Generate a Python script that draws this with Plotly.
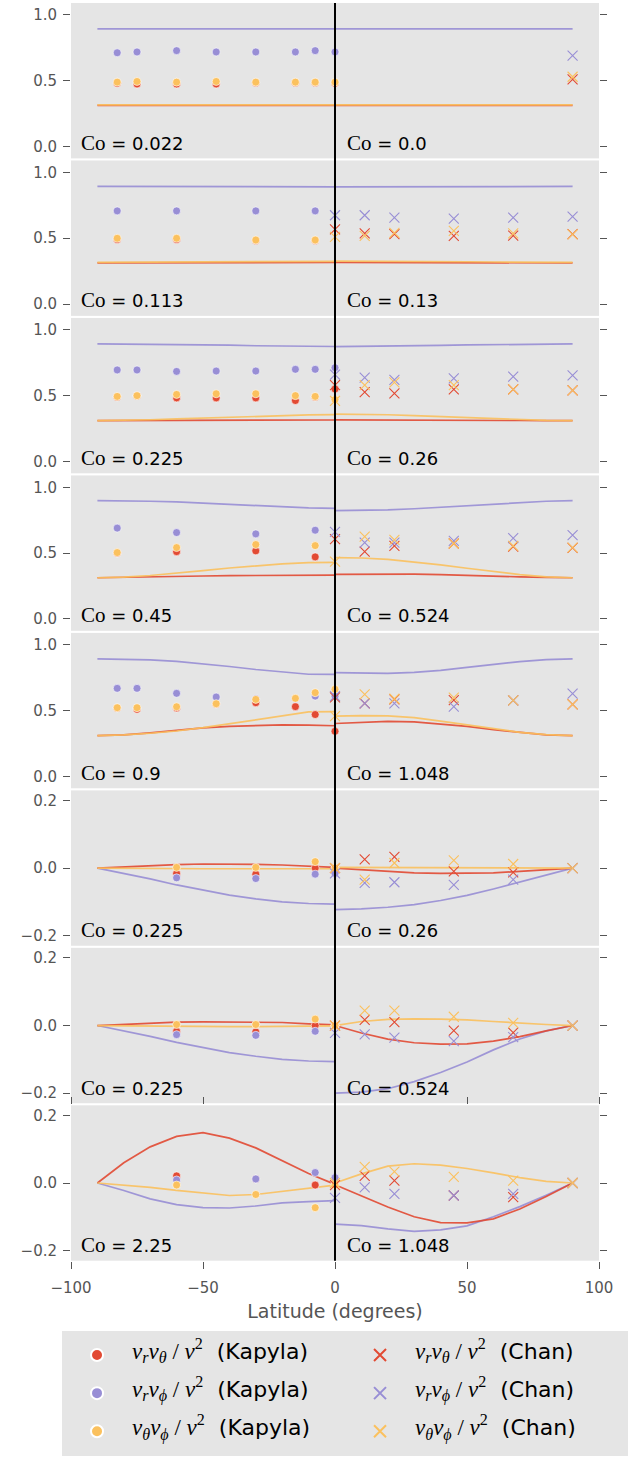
import plotly.graph_objects as go

# ---------------- data ----------------
co_left = ["0.022", "0.113", "0.225", "0.45", "0.9", "0.225", "0.225", "2.25"]
co_right = ["0.0", "0.13", "0.26", "0.524", "1.048", "0.26", "0.524", "1.048"]

LAT_K_FULL = [-82.5, -75, -60, -45, -30, -15, -7.5, 0]
LAT_K_SPARSE = [-82.5, -60, -30, -7.5]
LAT_K_EQ = [-60, -30, -7.5, 0]
kapyla_lats = [LAT_K_FULL, LAT_K_SPARSE, LAT_K_FULL, LAT_K_SPARSE,
               LAT_K_FULL, LAT_K_EQ, LAT_K_EQ, LAT_K_EQ]
chan_lats = [[90], [0, 11.25, 22.5, 45, 67.5, 90], [0, 11.25, 22.5, 45, 67.5, 90],
             [0, 11.25, 22.5, 45, 67.5, 90], [0, 11.25, 22.5, 45, 67.5, 90],
             [0, 11.25, 22.5, 45, 67.5, 90], [0, 11.25, 22.5, 45, 67.5, 90],
             [0, 11.25, 22.5, 45, 67.5, 90]]

# Kapyla points: v_r v_theta, v_r v_phi, v_theta v_phi
kapyla_rt = [
    [0.48, 0.475, 0.475, 0.475, 0.485, 0.485, 0.485, 0.48],
    [0.49, 0.49, 0.483, 0.483],
    [0.49, 0.50, 0.483, 0.483, 0.483, 0.463, 0.49, 0.55],
    [0.50, 0.511, 0.517, 0.471],
    [0.52, 0.51, 0.52, 0.55, 0.56, 0.53, 0.47, 0.343],
    [-0.016, -0.018, 0.0, 0.0],
    [-0.017, -0.019, 0.0, 0.0],
    [0.021, 0.012, -0.006, 0.0],
]
kapyla_rp = [
    [0.712, 0.718, 0.728, 0.718, 0.718, 0.718, 0.728, 0.718],
    [0.707, 0.707, 0.707, 0.707],
    [0.695, 0.695, 0.684, 0.687, 0.687, 0.70, 0.70, 0.712],
    [0.69, 0.656, 0.646, 0.674],
    [0.669, 0.669, 0.631, 0.603, 0.59, 0.59, 0.61, 0.61],
    [-0.029, -0.031, -0.018, -0.016],
    [-0.027, -0.029, -0.017, 0.0],
    [0.009, 0.012, 0.031, 0.016],
]
kapyla_tp = [
    [0.489, 0.494, 0.489, 0.494, 0.489, 0.489, 0.489, 0.489],
    [0.499, 0.499, 0.486, 0.486],
    [0.494, 0.50, 0.509, 0.514, 0.514, 0.50, 0.494, 0.47],
    [0.504, 0.542, 0.565, 0.557],
    [0.522, 0.522, 0.529, 0.552, 0.585, 0.593, 0.636, 0.662],
    [0.002, 0.002, 0.019, 0.0],
    [0.003, 0.003, 0.019, 0.0],
    [-0.006, -0.034, -0.073, -0.006],
]

# Chan points
chan_rt = [
    [0.51],
    [0.567, 0.537, 0.53, 0.517, 0.52, 0.53],
    [0.58, 0.527, 0.517, 0.547, 0.547, 0.54],
    [0.606, 0.511, 0.555, 0.573, 0.55, 0.54],
    [0.60, 0.555, 0.585, 0.58, 0.578, 0.547],
    [0.0, 0.026, 0.033, -0.01, -0.013, 0.0],
    [0.0, 0.017, 0.01, -0.015, -0.021, 0.0],
    [-0.006, 0.021, 0.007, -0.037, -0.042, 0.0],
]
chan_rp = [
    [0.69],
    [0.674, 0.674, 0.656, 0.649, 0.656, 0.664],
    [0.66, 0.636, 0.62, 0.631, 0.644, 0.654],
    [0.662, 0.58, 0.58, 0.593, 0.613, 0.636],
    [0.61, 0.555, 0.555, 0.53, 0.578, 0.628],
    [-0.016, -0.044, -0.042, -0.05, -0.034, 0.0],
    [-0.022, -0.026, -0.036, -0.046, -0.034, 0.0],
    [-0.044, -0.013, -0.032, -0.037, -0.032, 0.0],
]
chan_tp = [
    [0.53],
    [0.51, 0.517, 0.54, 0.555, 0.537, 0.529],
    [0.46, 0.58, 0.60, 0.58, 0.547, 0.54],
    [0.435, 0.626, 0.60, 0.573, 0.555, 0.542],
    [0.458, 0.623, 0.59, 0.598, 0.578, 0.547],
    [0.0, -0.034, 0.015, 0.023, 0.012, 0.0],
    [0.0, 0.044, 0.044, 0.026, 0.008, 0.0],
    [0.0, 0.048, 0.034, 0.018, 0.007, 0.0],
]

# Model curves, southern (-90..0) and northern (0..90) halves
LAT_S = [-90, -80, -70, -60, -50, -40, -30, -20, -10, 0]
LAT_N = [0, 10, 20, 30, 40, 50, 60, 70, 80, 90]

model_rp_s = [
    [0.893, 0.893, 0.893, 0.893, 0.893, 0.893, 0.893, 0.893, 0.893, 0.893],
    [0.893, 0.893, 0.893, 0.892, 0.892, 0.891, 0.891, 0.890, 0.890, 0.890],
    [0.893, 0.892, 0.891, 0.889, 0.886, 0.883, 0.879, 0.876, 0.874, 0.873],
    [0.898, 0.897, 0.894, 0.889, 0.880, 0.870, 0.860, 0.850, 0.843, 0.840],
    [0.893, 0.891, 0.885, 0.873, 0.855, 0.835, 0.812, 0.792, 0.776, 0.775],
    [0.0, -0.015, -0.032, -0.05, -0.066, -0.08, -0.091, -0.1, -0.105, -0.107],
    [0.0, -0.015, -0.032, -0.05, -0.066, -0.08, -0.091, -0.1, -0.105, -0.107],
    [0.0, -0.022, -0.047, -0.064, -0.073, -0.074, -0.068, -0.059, -0.055, -0.052],
]
model_rp_n = [
    [0.893, 0.893, 0.893, 0.893, 0.893, 0.893, 0.893, 0.893, 0.893, 0.893],
    [0.889, 0.889, 0.890, 0.890, 0.891, 0.891, 0.892, 0.892, 0.893, 0.893],
    [0.872, 0.873, 0.875, 0.878, 0.881, 0.885, 0.888, 0.891, 0.892, 0.893],
    [0.822, 0.823, 0.828, 0.837, 0.848, 0.860, 0.873, 0.885, 0.894, 0.898],
    [0.789, 0.786, 0.783, 0.790, 0.806, 0.828, 0.852, 0.872, 0.887, 0.893],
    [-0.123, -0.121, -0.116, -0.108, -0.096, -0.081, -0.062, -0.042, -0.021, 0.0],
    [-0.2, -0.197, -0.187, -0.166, -0.139, -0.108, -0.072, -0.04, -0.016, 0.0],
    [-0.122, -0.126, -0.136, -0.143, -0.139, -0.127, -0.1, -0.07, -0.036, 0.0],
]
model_rt_s = [
    [0.312, 0.312, 0.312, 0.312, 0.312, 0.312, 0.312, 0.312, 0.312, 0.312],
    [0.312, 0.312, 0.313, 0.313, 0.314, 0.314, 0.315, 0.315, 0.315, 0.315],
    [0.31, 0.311, 0.311, 0.312, 0.313, 0.313, 0.314, 0.314, 0.315, 0.315],
    [0.313, 0.315, 0.318, 0.322, 0.326, 0.329, 0.331, 0.332, 0.333, 0.333],
    [0.31, 0.315, 0.33, 0.35, 0.368, 0.38, 0.388, 0.392, 0.39, 0.385],
    [0.0, 0.004, 0.008, 0.01, 0.012, 0.012, 0.011, 0.009, 0.005, 0.002],
    [0.0, 0.004, 0.008, 0.01, 0.011, 0.011, 0.011, 0.009, 0.005, 0.002],
    [0.0, 0.06, 0.107, 0.138, 0.149, 0.133, 0.104, 0.065, 0.028, -0.004],
]
model_rt_n = [
    [0.312, 0.312, 0.312, 0.312, 0.312, 0.312, 0.312, 0.312, 0.312, 0.312],
    [0.316, 0.316, 0.316, 0.315, 0.315, 0.314, 0.314, 0.313, 0.312, 0.312],
    [0.316, 0.316, 0.315, 0.315, 0.314, 0.313, 0.312, 0.311, 0.31, 0.31],
    [0.338, 0.34, 0.341, 0.34, 0.337, 0.333, 0.327, 0.32, 0.315, 0.313],
    [0.402, 0.41, 0.418, 0.415, 0.4, 0.38, 0.355, 0.333, 0.316, 0.31],
    [0.0, -0.005, -0.01, -0.014, -0.016, -0.016, -0.014, -0.01, -0.005, 0.0],
    [0.0, -0.022, -0.04, -0.051, -0.055, -0.054, -0.046, -0.033, -0.016, 0.0],
    [-0.005, -0.037, -0.071, -0.1, -0.117, -0.118, -0.106, -0.077, -0.04, 0.0],
]
model_tp_s = [
    [0.316, 0.316, 0.316, 0.316, 0.316, 0.316, 0.316, 0.316, 0.316, 0.316],
    [0.316, 0.317, 0.318, 0.319, 0.320, 0.321, 0.322, 0.323, 0.323, 0.324],
    [0.31, 0.312, 0.317, 0.323, 0.33, 0.338, 0.345, 0.35, 0.354, 0.356],
    [0.313, 0.318, 0.33, 0.347, 0.367, 0.387, 0.405, 0.418, 0.427, 0.43],
    [0.31, 0.315, 0.328, 0.345, 0.37, 0.4, 0.43, 0.465, 0.49, 0.492],
    [0.0, -0.001, -0.002, -0.002, -0.002, -0.002, -0.002, -0.002, -0.002, -0.002],
    [0.0, -0.001, -0.002, -0.003, -0.003, -0.003, -0.003, -0.002, -0.002, -0.001],
    [0.0, -0.006, -0.013, -0.022, -0.029, -0.037, -0.034, -0.025, -0.016, -0.006],
]
model_tp_n = [
    [0.316, 0.316, 0.316, 0.316, 0.316, 0.316, 0.316, 0.316, 0.316, 0.316],
    [0.325, 0.325, 0.324, 0.323, 0.322, 0.321, 0.319, 0.318, 0.317, 0.316],
    [0.36, 0.359, 0.355, 0.348, 0.34, 0.332, 0.324, 0.317, 0.312, 0.31],
    [0.466, 0.463, 0.452, 0.433, 0.41, 0.385, 0.36, 0.337, 0.32, 0.313],
    [0.458, 0.462, 0.46, 0.447, 0.42, 0.39, 0.36, 0.335, 0.317, 0.31],
    [0.002, 0.002, 0.002, 0.002, 0.002, 0.002, 0.002, 0.002, 0.001, 0.0],
    [0.0, 0.012, 0.018, 0.02, 0.019, 0.017, 0.012, 0.007, 0.003, 0.0],
    [0.0, 0.027, 0.05, 0.057, 0.053, 0.043, 0.03, 0.016, 0.005, 0.0],
]

x_ticks = [-100, -50, 0, 50, 100]

# ---------------- style ----------------
RED = "#E24A33"
PURPLE = "#988ED5"
YELLOW = "#FBC15E"
BG = "#E5E5E5"
GRAY = "#555555"
SERIF = "Liberation Serif"
SANS = "DejaVu Sans"

W, H = 639, 1458
M_L, M_R, M_T, M_B = 71, 40, 3, 196
PLOT_H = H - M_T - M_B
PANEL_STEP = 157.6
PANEL_H = 155.5


def ydomain(i):
    top = i * PANEL_STEP
    bot = top + PANEL_H
    return [1 - bot / PLOT_H, 1 - top / PLOT_H]


def math_label(a, b):
    return (f"<span style='font-family:{SERIF};font-size:23px'><i>v<sub>{a}</sub>v<sub>{b}</sub></i>"
            f" / <i>v</i><sup>2</sup></span>")


def legend_text(a, b, who):
    body = math_label(a, b) + f"<span style='font-size:22px'>\u00a0\u00a0({who})</span>"
    return "\u00a0<br>" + body + "<br>\u00a0"


labels_k = [legend_text("r", "θ", "Kapyla"), legend_text("r", "ϕ", "Kapyla"),
            legend_text("θ", "ϕ", "Kapyla")]
labels_c = [legend_text("r", "θ", "Chan"), legend_text("r", "ϕ", "Chan"),
            legend_text("θ", "ϕ", "Chan")]

fig = go.Figure()

colors = [RED, PURPLE, YELLOW]
kap_sets = [kapyla_rt, kapyla_rp, kapyla_tp]
chan_sets = [chan_rt, chan_rp, chan_tp]
ms_sets = [model_rt_s, model_rp_s, model_tp_s]
mn_sets = [model_rt_n, model_rp_n, model_tp_n]

for i in range(8):
    sfx = "" if i == 0 else str(i + 1)
    xa, ya = "x" + sfx, "y" + sfx
    # model curves
    for q in [1, 0, 2]:
        for lats, vals in [(LAT_S, ms_sets[q][i]), (LAT_N, mn_sets[q][i])]:
            fig.add_trace(go.Scatter(x=lats, y=vals, mode="lines",
                                     line=dict(color=colors[q], width=1.7),
                                     opacity=0.9, xaxis=xa, yaxis=ya,
                                     showlegend=False, hoverinfo="skip"))
    # Kapyla
    for q in range(3):
        fig.add_trace(go.Scatter(x=kapyla_lats[i], y=kap_sets[q][i], mode="markers",
                                 marker=dict(color=colors[q], size=8, symbol="circle",
                                             line=dict(color="white", width=0.6)),
                                 xaxis=xa, yaxis=ya, name=labels_k[q],
                                 legendrank=2 * q + 1, showlegend=(i == 0)))
    # Chan
    for q in range(3):
        fig.add_trace(go.Scatter(x=chan_lats[i], y=chan_sets[q][i], mode="markers",
                                 marker=dict(color=colors[q], size=10, symbol="x-thin",
                                             line=dict(color=colors[q], width=1.1)),
                                 xaxis=xa, yaxis=ya, name=labels_c[q],
                                 legendrank=2 * q + 2, showlegend=(i == 0)))
    # Co annotations
    for xpos, txt in [(-96.8, co_left[i]), (3.8, co_right[i])]:
        fig.add_annotation(x=xpos, y=0.01, xref=xa, yref=ya + " domain",
                           xanchor="left", yanchor="bottom", showarrow=False,
                           text=f"<span style='font-family:{SERIF};font-size:21px'>Co</span> = {txt}",
                           font=dict(family=SANS, size=18, color="black"))

    yr = [-0.09, 1.09] if i < 5 else [-0.23, 0.23]
    ytv = [0.0, 0.5, 1.0] if i < 5 else [-0.2, 0.0, 0.2]
    ytt = ["0.0", "0.5", "1.0"] if i < 5 else ["\u22120.2", "0.0", "0.2"]
    last = (i == 7)
    fig.update_layout(**{
        ("xaxis" + sfx): dict(range=[-100, 100], domain=[0, 1], anchor=ya,
                              automargin=False,
                              showgrid=False, zeroline=False,
                              showticklabels=last,
                              ticks="outside" if last else "",
                              mirror="ticks" if last else False,
                              tickvals=x_ticks,
                              ticktext=[("\u2212" + str(-v)) if v < 0 else str(v) for v in x_ticks],
                              ticklen=7, tickcolor=GRAY, ticklabelstandoff=6,
                              tickfont=dict(family=SANS, size=15, color=GRAY),
                              matches=None if i == 0 else "x",
                              title=dict(text="Latitude (degrees)" if last else "",
                                         font=dict(family=SANS, size=19, color=GRAY),
                                         standoff=8)),
        ("yaxis" + sfx): dict(range=yr, domain=ydomain(i), anchor=xa,
                              automargin=False,
                              showgrid=False, zeroline=False,
                              ticks="outside", mirror="ticks", ticklen=7, tickcolor=GRAY,
                              ticklabelstandoff=3,
                              tickvals=ytv, ticktext=ytt,
                              tickfont=dict(family=SANS, size=15, color=GRAY)),
    })

# vertical equator line across all panels
fig.add_shape(type="line", xref="x8", yref="paper", x0=0, x1=0,
              y0=ydomain(7)[0], y1=ydomain(0)[1],
              line=dict(color="black", width=2), layer="above")

fig.update_layout(
    width=W, height=H,
    margin=dict(l=M_L, r=M_R, t=M_T, b=M_B),
    paper_bgcolor="white", plot_bgcolor=BG,
    font=dict(family=SANS, color="black"),
    legend=dict(orientation="h", x=-0.017, y=-(1331 - (H - M_B)) / PLOT_H,
                xanchor="left", yanchor="top", bgcolor=BG, borderwidth=0,
                font=dict(family=SANS, size=9, color="black"),
                entrywidth=208, itemwidth=60, itemsizing="constant",
                traceorder="normal", valign="middle"),
)

fig.write_html(
    "out.html",
    config={"displayModeBar": False},
    post_script=("document.body.style.margin='0px';"
                 "document.body.style.overflow='hidden';"
                 "document.documentElement.style.overflow='hidden';"),
)
